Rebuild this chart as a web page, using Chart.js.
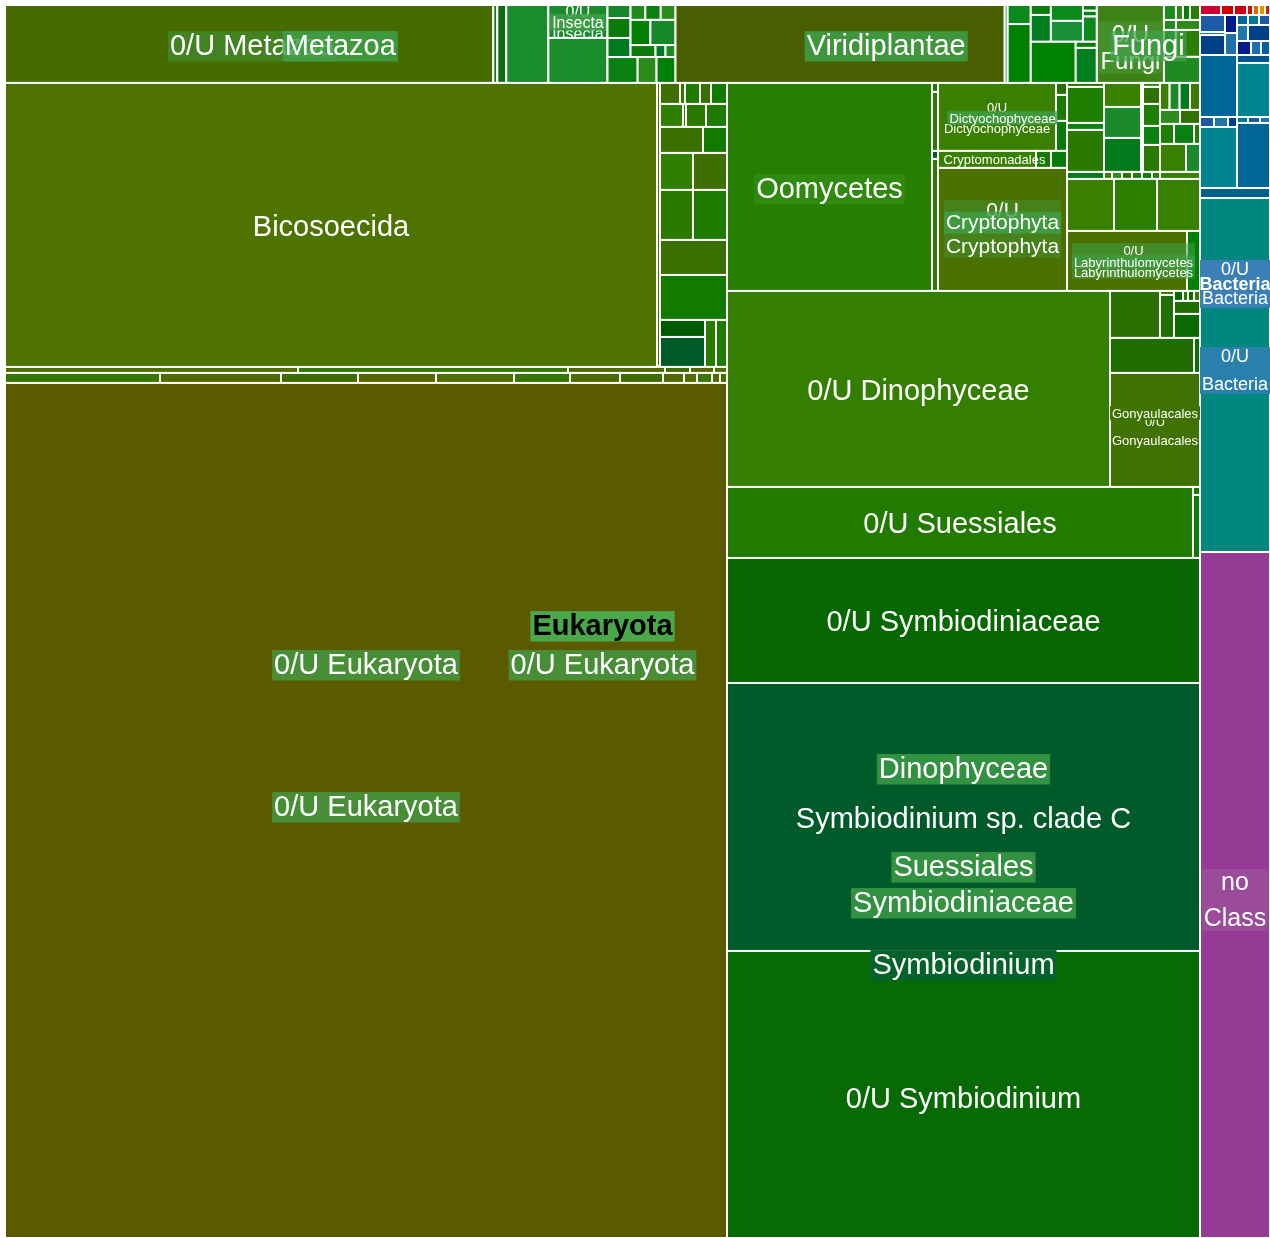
<!DOCTYPE html>
<html>
<head>
<meta charset="utf-8">
<title>Taxa treemap</title>
<script src="https://cdn.jsdelivr.net/npm/chart.js@4.4.1/dist/chart.umd.min.js"></script>
<style>
    html, body { margin: 0; padding: 0; background: #fff; }
    #wrap { position: relative; width: 1270px; height: 1238px; }
</style>
</head>
<body>
<div id="wrap"><canvas id="taxaTreemap"></canvas></div>
<script>
// Rows are [id, parent, value]; a group has value null and takes the sum of its children.
const kingdomRows = [
    ['all', null, null],
    ['Eukaryota', 'all', null],
    ['side', 'all', null],
    ['Other', 'side', null],
    ['Bacteria', 'side', null],
    ['no Class', 'side', 480.2],
    ['Eukaryota top', 'Eukaryota', null],
    ['Eukaryota rest', 'Eukaryota', null]
];

const otherRows = [
    ['ot a', 'Other', 2.1], ['ot b', 'Other', 1.3], ['ot c', 'Other', 1.3], ['ot d', 'Other', 0.6],
    ['ot e', 'Other', 0.6], ['ot f', 'Other', 0.6], ['ot g', 'Other', 0.5]
];

const metazoaRows = [
    ['Metazoa', 'Eukaryota top', null],
    ['0/U Metazoa', 'Metazoa', 380.6],
    ['Metazoa a', 'Metazoa', 3.1],
    ['Metazoa b', 'Metazoa', 7.0],
    ['Metazoa c', 'Metazoa', 32.8],
    ['Insecta', 'Metazoa', null],
    ['0/U Insecta', 'Insecta', 19.5], ['Insecta sp.', 'Insecta', 26.6],
    ['Metazoa misc', 'Metazoa', null],
    ['mm top', 'Metazoa misc', null],
    ['mm c1', 'mm top', null], ['mm 1', 'mm c1', 3.0], ['mm 2', 'mm c1', 4.6], ['mm 3', 'mm c1', 4.4],
    ['mm c2', 'mm top', null],
    ['mm r1', 'mm c2', null], ['mm 4', 'mm r1', 2.2], ['mm 5', 'mm r1', 2.3], ['mm 6', 'mm r1', 2.2],
    ['mm r2', 'mm c2', null], ['mm 7', 'mm r2', 5.0], ['mm 8', 'mm r2', 6.3],
    ['mm r3', 'mm c2', null], ['mm 9', 'mm r3', 3.0], ['mm 10', 'mm r3', 1.2], ['mm 11', 'mm r3', 1.2],
    ['mm bottom', 'Metazoa misc', null], ['mm 12', 'mm bottom', 7.8], ['mm 13', 'mm bottom', 4.9], ['mm 14', 'mm bottom', 4.9]
];

const viridiRows = [
    ['Viridiplantae', 'Eukaryota top', null],
    ['0/U Viridiplantae', 'Viridiplantae', 256.6],
    ['vp 1', 'Viridiplantae', 2.3],
    ['vp c2', 'Viridiplantae', null], ['vp 2', 'vp c2', 4.4], ['vp 3', 'vp c2', 13.6],
    ['vp c3', 'Viridiplantae', null],
    ['vp top', 'vp c3', null],
    ['vp a', 'vp top', null], ['vp 4', 'vp a', 2.0], ['vp 5', 'vp a', 5.4],
    ['vp b', 'vp top', null], ['vp 6', 'vp b', 5.1], ['vp 7', 'vp b', 6.7],
    ['vp c', 'vp top', null], ['vp 8', 'vp c', 0.8], ['vp 9', 'vp c', 0.8], ['vp 10', 'vp c', 3.5],
    ['vp bottom', 'vp c3', null], ['vp 11', 'vp bottom', 18.5],
    ['vp e', 'vp bottom', null], ['vp 12', 'vp e', 1.3], ['vp 13', 'vp e', 7.4]
];

const fungiRows = [
    ['Fungi', 'Eukaryota top', null],
    ['0/U Fungi', 'Fungi', 52.3],
    ['fu misc', 'Fungi', null],
    ['fu r1', 'fu misc', null], ['fu 1', 'fu r1', 1.8], ['fu 2', 'fu r1', 1.05], ['fu 3', 'fu r1', 1.05], ['fu 4', 'fu r1', 1.5],
    ['fu r2', 'fu misc', null], ['fu 5', 'fu r2', 1.2], ['fu 6', 'fu r2', 2.4],
    ['fu r3', 'fu misc', null], ['fu 7', 'fu r3', 3.2], ['fu 8', 'fu r3', 6.5],
    ['fu 9', 'fu misc', 9.4]
];

const leftRows = [
    ['Eukaryota left', 'Eukaryota rest', null],
    ['Bicosoecida area', 'Eukaryota left', null],
    ['Bicosoecida', 'Bicosoecida area', 1851.7],
    ['bc thin', 'Bicosoecida area', 8.5],
    ['bc misc', 'Bicosoecida area', null],
    ['bc r1', 'bc misc', null], ['bc 1', 'bc r1', 4.2], ['bc 2', 'bc r1', 1.05], ['bc 3', 'bc r1', 3.15], ['bc 4', 'bc r1', 2.31], ['bc 5', 'bc r1', 3.36],
    ['bc r2', 'bc misc', null], ['bc 6', 'bc r2', 5.29], ['bc 7', 'bc r2', 0.69], ['bc 8', 'bc r2', 4.6], ['bc 9', 'bc r2', 4.83],
    ['bc r3', 'bc misc', null], ['bc 10', 'bc r3', 11.18], ['bc 11', 'bc r3', 6.24],
    ['bc r4', 'bc misc', null], ['bc 12', 'bc r4', 12.21], ['bc 13', 'bc r4', 12.58],
    ['bc r5', 'bc misc', null], ['bc 14', 'bc r5', 16.5], ['bc 15', 'bc r5', 17.0],
    ['bc 16', 'bc misc', 23.45],
    ['bc 17', 'bc misc', 30.15],
    ['bc r8', 'bc misc', null], ['bc r8a', 'bc r8', null], ['bc 18', 'bc r8a', 7.65], ['bc 19', 'bc r8a', 13.5],
    ['bc 20', 'bc r8', 5.17], ['bc 21', 'bc r8', 5.17],
    ['strips', 'Eukaryota left', null],
    ['strip 1', 'strips', null],
    ['st 1', 'strip 1', 17.58], ['st 2', 'strip 1', 16.2], ['st 3', 'strip 1', 5.82], ['st 4', 'strip 1', 1.5], ['st 5', 'strip 1', 1.44], ['st 6', 'strip 1', 0.78],
    ['strip 2', 'strips', null],
    ['st 7', 'strip 2', 15.5], ['st 8', 'strip 2', 12.1], ['st 9', 'strip 2', 7.7], ['st 10', 'strip 2', 7.8], ['st 11', 'strip 2', 7.8],
    ['st 12', 'strip 2', 5.6], ['st 13', 'strip 2', 5.0], ['st 14', 'strip 2', 4.3], ['st 15', 'strip 2', 2.1], ['st 16', 'strip 2', 1.3],
    ['st 17', 'strip 2', 1.5], ['st 18', 'strip 2', 0.8], ['st 19', 'strip 2', 0.7],
    ['0/U Eukaryota', 'Eukaryota left', 6173.1]
];

const rightTopRows = [
    ['Eukaryota right', 'Eukaryota rest', null],
    ['right top', 'Eukaryota right', null],
    ['Oomycetes', 'right top', 426.4],
    ['oo thin', 'right top', null], ['oo 1', 'oo thin', 0.54], ['oo 2', 'oo thin', 3.54], ['oo 3', 'oo thin', 0.48], ['oo 4', 'oo thin', 7.92],
    ['Cryptophyta area', 'right top', null],
    ['Dictyochophyceae', 'Cryptophyta area', null],
    ['0/U Dictyochophyceae', 'Dictyochophyceae', 80.2],
    ['dc side', 'Dictyochophyceae', null], ['dc 1', 'dc side', 1.32], ['dc 2', 'dc side', 2.86], ['dc 3', 'dc side', 3.3],
    ['Cryptomonadales row', 'Cryptophyta area', null],
    ['Cryptomonadales', 'Cryptomonadales row', 16.66], ['cm 1', 'Cryptomonadales row', 2.55], ['cm 2', 'Cryptomonadales row', 2.72],
    ['0/U Cryptophyta', 'Cryptophyta area', 158.7],
    ['mixed', 'right top', null],
    ['mx top', 'mixed', null],
    ['mx c1', 'mx top', null], ['mx 1', 'mx c1', 1.48], ['mx 2', 'mx c1', 13.32], ['mx 3', 'mx c1', 2.59], ['mx 4', 'mx c1', 15.54],
    ['mx c2', 'mx top', null], ['mx 5', 'mx c2', 8.88], ['mx 6', 'mx c2', 11.47], ['mx 7', 'mx c2', 12.58],
    ['mx 8', 'mx top', 1.78],
    ['mx c3', 'mx top', null], ['mx 9', 'mx c3', 0.68], ['mx 10', 'mx c3', 2.89], ['mx 11', 'mx c3', 3.74], ['mx 12', 'mx c3', 3.23], ['mx 13', 'mx c3', 4.59],
    ['mx c4', 'mx top', null],
    ['mx c4a', 'mx c4', null], ['mx 14', 'mx c4a', 2.6], ['mx 15', 'mx c4a', 2.7], ['mx 16', 'mx c4a', 2.8], ['mx 17', 'mx c4a', 2.7],
    ['mx c4b', 'mx c4', null], ['mx 18', 'mx c4b', 2.8], ['mx 19', 'mx c4b', 2.8],
    ['mx c4c', 'mx c4', null], ['mx 20', 'mx c4c', 2.8], ['mx 21', 'mx c4c', 4.0], ['mx 22', 'mx c4c', 1.2],
    ['mx c4d', 'mx c4', null], ['mx 23', 'mx c4d', 7.28], ['mx 24', 'mx c4d', 3.92],
    ['mx thin', 'mixed', null],
    ['mx 25', 'mx thin', 2.59], ['mx 26', 'mx thin', 0.56], ['mx 27', 'mx thin', 0.7], ['mx 28', 'mx thin', 0.7],
    ['mx 29', 'mx thin', 0.7], ['mx 30', 'mx thin', 0.7], ['mx 31', 'mx thin', 0.56], ['mx 32', 'mx thin', 2.8],
    ['mx mid', 'mixed', null], ['mx 33', 'mx mid', 24.44], ['mx 34', 'mx mid', 22.36], ['mx 35', 'mx mid', 22.36],
    ['Labyrinthulomycetes', 'mixed', null],
    ['0/U Labyrinthulomycetes', 'Labyrinthulomycetes', 72], ['lb 1', 'Labyrinthulomycetes', 7.8]
];

const dinoRows = [
    ['Dinophyceae', 'Eukaryota right', null],
    ['dino top', 'Dinophyceae', null],
    ['0/U Dinophyceae', 'dino top', 750.7],
    ['gony area', 'dino top', null],
    ['gy top', 'gony area', null], ['gy 1', 'gy top', 23.5],
    ['gy c2', 'gy top', null], ['gy 2', 'gy c2', 0.56], ['gy 3', 'gy c2', 6.0],
    ['gy c3', 'gy top', null], ['gy r', 'gy c3', null],
    ['gy 4', 'gy r', 0.9], ['gy 5', 'gy r', 0.5], ['gy 6', 'gy r', 0.6], ['gy 7', 'gy r', 0.6],
    ['gy 8', 'gy c3', 3.38], ['gy 9', 'gy c3', 6.24],
    ['Gonyaulacales', 'gony area', null],
    ['gy row', 'Gonyaulacales', null], ['gy 10', 'gy row', 29.4], ['gy 11', 'gy row', 2.1],
    ['0/U Gonyaulacales', 'Gonyaulacales', 102.6],
    ['Suessiales', 'Dinophyceae', null],
    ['ss top', 'Suessiales', null], ['0/U Suessiales', 'ss top', 330.9],
    ['ss side', 'ss top', null], ['ss 1', 'ss side', 0.56], ['ss 2', 'ss side', 4.41],
    ['Symbiodiniaceae', 'Suessiales', null],
    ['0/U Symbiodiniaceae', 'Symbiodiniaceae', 591.25],
    ['Symbiodinium', 'Symbiodiniaceae', null],
    ['Symbiodinium sp. clade C', 'Symbiodinium', 1267.6],
    ['0/U Symbiodinium', 'Symbiodinium', 1357.5]
];

const bacteriaRows = [
    ['bt top', 'Bacteria', null],
    ['bt c1', 'bt top', null], ['bt 1', 'bt c1', 4.25], ['bt 2', 'bt c1', 0.75], ['bt 3', 'bt c1', 5.0],
    ['bt c2', 'bt top', null], ['bt 4', 'bt c2', 2.16], ['bt 5', 'bt c2', 2.64],
    ['bt c3', 'bt top', null],
    ['bt r1', 'bt c3', null], ['bt 6', 'bt r1', 1.1], ['bt 7', 'bt r1', 1.1], ['bt 8', 'bt r1', 1.1],
    ['bt r2', 'bt c3', null], ['bt 9', 'bt r2', 1.76], ['bt 10', 'bt r2', 3.52],
    ['bt r3', 'bt c3', null], ['bt 11', 'bt r3', 1.96], ['bt 12', 'bt r3', 1.4], ['bt 13', 'bt r3', 1.26],
    ['bt mid', 'Bacteria', null],
    ['bt c4', 'bt mid', null], ['bt 14', 'bt c4', 22.94],
    ['bt r4', 'bt c4', null], ['bt 15', 'bt r4', 1.4], ['bt 16', 'bt r4', 1.4], ['bt 17', 'bt r4', 0.9],
    ['bt 18', 'bt c4', 22.57],
    ['bt c5', 'bt mid', null], ['bt 19', 'bt c5', 2.64], ['bt 20', 'bt c5', 17.82],
    ['bt r5', 'bt c5', null], ['bt 21', 'bt r5', 0.66], ['bt 22', 'bt r5', 0.72], ['bt 23', 'bt r5', 0.6],
    ['bt 24', 'bt c5', 21.45],
    ['bt 25', 'Bacteria', 7.0],
    ['0/U Bacteria', 'Bacteria', 247.8]
];

// groups split side by side ('x'); every other group is stacked
const xSplit = ['all', 'Eukaryota top', 'Other', 'Metazoa', 'mm top', 'mm r1', 'mm r2', 'mm r3', 'mm bottom',
    'Viridiplantae', 'vp top', 'vp bottom', 'Fungi', 'fu r1', 'fu r2', 'fu r3',
    'Eukaryota rest', 'Bicosoecida area', 'bc r1', 'bc r2', 'bc r3', 'bc r4', 'bc r5', 'bc r8', 'strip 1', 'strip 2',
    'right top', 'Dictyochophyceae', 'Cryptomonadales row', 'mx top', 'mx c4a', 'mx c4b', 'mx c4c', 'mx c4d',
    'mx thin', 'mx mid', 'Labyrinthulomycetes', 'dino top', 'gy top', 'gy r', 'gy row', 'ss top',
    'bt top', 'bt r1', 'bt r2', 'bt r3', 'bt mid', 'bt r4', 'bt r5'];

const leafColors = {
    '0/U Metazoa': '#466b00', 'Metazoa a': '#0b7a16', 'Metazoa b': '#0f6f0f', 'Metazoa c': '#1b8c2c',
    '0/U Insecta': '#1b8c2c', 'Insecta sp.': '#1b8c2c',
    '0/U Viridiplantae': '#485e00', 'vp 7': '#1a8f3a', '0/U Fungi': '#3c8214',
    'Bicosoecida': '#4e7300', 'bc thin': '#4a7000', 'bc 18': '#005a00', 'bc 19': '#005a28',
    '0/U Eukaryota': '#5b5a00',
    'Oomycetes': '#267f00', '0/U Dictyochophyceae': '#3a7f00', 'Cryptomonadales': '#3a7f00', '0/U Cryptophyta': '#4a7000',
    'mx 33': '#3a7f00', 'mx 34': '#2a7f00', 'mx 35': '#3a8000', '0/U Labyrinthulomycetes': '#4a7000', 'lb 1': '#008000',
    '0/U Dinophyceae': '#347f00', '0/U Gonyaulacales': '#3f7200', 'gy 1': '#2a7000', 'gy 10': '#1f6c00',
    '0/U Suessiales': '#237a00', '0/U Symbiodiniaceae': '#076700', 'Symbiodinium sp. clade C': '#005a2a',
    '0/U Symbiodinium': '#086a04',
    'bt 14': '#006699', 'bt 18': '#00848f', 'bt 19': '#00558f', 'bt 20': '#008490', 'bt 24': '#006699', 'bt 25': '#00628a',
    '0/U Bacteria': '#00877f', 'no Class': '#953a95'
};

const groupColors = {
    'Other': ['#cc2200', '#cc0033', '#cc0000', '#cc0011', '#cc1100', '#dd6600', '#dd9900'],
    'Metazoa misc': ['#17882a', '#0a7a0a', '#007a22', '#1f8a1f', '#0a8010', '#2a8a1a', '#008000'],
    'Viridiplantae': ['#0a7c0a', '#007f1f', '#0a8a1a', '#008000'],
    'Fungi': ['#2f8a1a', '#008000', '#2a7f00', '#1f8a1f'],
    'bc misc': ['#3f6f00', '#2a7a00', '#1f7a00', '#3a7000', '#137a00', '#2f7f00'],
    'strips': ['#4f7000', '#357700', '#4f6a00', '#3d6c00', '#556800'],
    'oo thin': ['#1f7a00', '#2a7a00', '#005a3a', '#2a7a00'],
    'Cryptophyta area': ['#1a7a00', '#0a7a0a', '#2a7000'],
    'mixed': ['#2f7000', '#1f7f00', '#0a8010', '#2a7a00', '#3a8000', '#1a8a2a', '#007a1a', '#3f7a00', '#2f8a1f'],
    'gony area': ['#2a7a00', '#0a7000', '#3a7a00', '#1f6f00', '#0a6a00'],
    'ss top': ['#0a7a0a', '#1f7a00'],
    'Bacteria': ['#1f6faa', '#006699', '#00788f', '#1c5aa8', '#1f76a8', '#00408a', '#001a8a']
};

const labelSpecs = [
    { node: '0/U Metazoa', text: '0/U Metazoa', size: 29, dx: 3, dy: 1, bg: 'rgba(64,150,60,0.55)' },
    { node: 'Metazoa', text: 'Metazoa', size: 29, dy: 1, bg: 'rgba(64,160,72,0.85)' },
    { node: '0/U Insecta', text: '0/U\nInsecta', size: 16, gap: 22, dy: 0.5 },
    { node: '0/U Insecta', text: 'Insecta', size: 16, dy: 0.5, bg: 'rgba(64,160,72,0.85)' },
    { node: 'Viridiplantae', text: 'Viridiplantae', size: 29, dy: 1, bg: 'rgba(64,160,72,0.85)' },
    { node: '0/U Fungi', text: '0/U\nFungi', size: 24, gap: 27, dy: 2.5, bg: 'rgba(80,160,70,0.45)' },
    { node: 'Fungi', text: 'Fungi', size: 29, dy: 1, bg: 'rgba(64,160,72,0.7)' },
    { node: 'Bicosoecida', text: 'Bicosoecida', size: 29, dy: 1 },
    { node: 'Eukaryota', text: 'Eukaryota', size: 29, bold: true, color: '#000', dy: 3.5, bg: '#4aa84a' },
    { node: 'Eukaryota rest', text: '0/U Eukaryota', size: 29, dy: 3.5, bg: 'rgba(64,160,72,0.75)' },
    { node: 'Eukaryota left', text: '0/U Eukaryota', size: 29, dy: 3.5, bg: 'rgba(64,160,72,0.75)' },
    { node: '0/U Eukaryota', text: '0/U Eukaryota', size: 29, dy: -4.5, bg: 'rgba(64,160,72,0.75)' },
    { node: 'Oomycetes', text: 'Oomycetes', size: 29, dy: 1, bg: 'rgba(80,170,60,0.25)' },
    { node: '0/U Dictyochophyceae', text: '0/U\nDictyochophyceae', size: 13, gap: 21, dy: 0.5 },
    { node: 'Dictyochophyceae', text: 'Dictyochophyceae', size: 13, dy: 1, bg: 'rgba(64,160,72,0.8)' },
    { node: 'Cryptomonadales row', text: 'Cryptomonadales', size: 13, dx: -8, dy: 0 },
    { node: '0/U Cryptophyta', text: '0/U\nCryptophyta', size: 21, gap: 36, dy: -1.5, bg: 'rgba(64,160,72,0.35)' },
    { node: '0/U Cryptophyta', text: 'Cryptophyta', size: 21, dy: -7.5, bg: 'rgba(64,160,72,0.8)' },
    { node: 'Labyrinthulomycetes', text: '0/U\nLabyrinthulomycetes', size: 13, gap: 22, dy: 0, bg: 'rgba(64,160,72,0.55)' },
    { node: 'Labyrinthulomycetes', text: 'Labyrinthulomycetes', size: 13, dy: 1, bg: 'rgba(64,160,72,0.6)' },
    { node: '0/U Dinophyceae', text: '0/U Dinophyceae', size: 29, dy: 1 },
    { node: '0/U Gonyaulacales', text: '0/U\nGonyaulacales', size: 13, gap: 19, dy: 0.5 },
    { node: 'Gonyaulacales', text: 'Gonyaulacales', size: 13, dy: 0.5, bg: '#3f7200' },
    { node: '0/U Suessiales', text: '0/U Suessiales', size: 29, dy: 0.5 },
    { node: '0/U Symbiodiniaceae', text: '0/U Symbiodiniaceae', size: 29, dy: 0.5 },
    { node: 'Dinophyceae', text: 'Dinophyceae', size: 29, dy: 3.5, bg: 'rgba(64,160,72,0.8)' },
    { node: 'Symbiodinium sp. clade C', text: 'Symbiodinium sp. clade C', size: 29, dy: 1 },
    { node: 'Suessiales', text: 'Suessiales', size: 29, dy: 3.5, bg: 'rgba(64,160,72,0.8)' },
    { node: 'Symbiodiniaceae', text: 'Symbiodiniaceae', size: 29, dy: 4, bg: 'rgba(64,160,72,0.8)' },
    { node: 'Symbiodinium', text: 'Symbiodinium', size: 29, dy: 3.5, bg: '#05622a' },
    { node: '0/U Symbiodinium', text: '0/U Symbiodinium', size: 29, dy: 3.5 },
    { node: 'Bacteria', text: '0/U\nBacteria', size: 18, gap: 29, dy: 0, bg: '#3a7fb6' },
    { node: 'Bacteria', text: 'Bacteria', size: 18, bold: true, dy: 0.5 },
    { node: '0/U Bacteria', text: '0/U\nBacteria', size: 18, gap: 28, dy: -5, bg: '#2a80aa' },
    { node: 'no Class', text: 'no\nClass', size: 25, gap: 36, dy: 4, bg: '#9a4c9a' }
];

const allRows = [].concat(kingdomRows, otherRows, metazoaRows, viridiRows, fungiRows,
    leftRows, rightTopRows, dinoRows, bacteriaRows);

function buildTree(rows) {
    const nodes = {};
    rows.forEach(function (r) {
        nodes[r[0]] = { id: r[0], parent: r[1], value: r[2], children: [] };
    });
    rows.forEach(function (r) {
        if (r[1]) nodes[r[1]].children.push(nodes[r[0]]);
    });
    return nodes;
}

function sumUp(node) {
    node.sum = node.children.length
        ? node.children.reduce(function (s, c) { return s + sumUp(c); }, 0)
        : node.value;
    return node.sum;
}

// slice-and-dice in data space (0..1 on both axes)
function place(node, x0, y0, x1, y1) {
    node.box = [x0, y0, x1, y1];
    if (!node.children.length) return;
    const horizontal = xSplit.indexOf(node.id) >= 0;
    let pos = horizontal ? x0 : y0;
    const span = horizontal ? x1 - x0 : y1 - y0;
    node.children.forEach(function (c) {
        const len = span * c.sum / node.sum;
        if (horizontal) place(c, pos, y0, pos + len, y1);
        else place(c, x0, pos, x1, pos + len);
        pos += len;
    });
}

const nodes = buildTree(allRows);
sumUp(nodes['all']);
place(nodes['all'], 0, 0, 1, 1);

const leaves = allRows.map(function (r) { return nodes[r[0]]; })
    .filter(function (n) { return !n.children.length; });

function colorOf(node, i) {
    if (leafColors[node.id]) return leafColors[node.id];
    let p = node.parent;
    while (p) {
        if (groupColors[p]) return groupColors[p][i % groupColors[p].length];
        p = nodes[p].parent;
    }
    return '#2a7a00';
}

const treemapPainter = {
    id: 'treemapPainter',
    afterDatasetsDraw(chart) {
        const ctx = chart.ctx;
        const xs = chart.scales.x, ys = chart.scales.y;
        const toPx = function (b) {
            return {
                l: xs.getPixelForValue(b[0]), t: ys.getPixelForValue(b[1]),
                r: xs.getPixelForValue(b[2]), b: ys.getPixelForValue(b[3])
            };
        };

        ctx.save();
        leaves.forEach(function (n, i) {
            const p = toPx(n.box);
            ctx.fillStyle = colorOf(n, i);
            ctx.fillRect(p.l, p.t, p.r - p.l, p.b - p.t);
            ctx.strokeStyle = '#fff';
            ctx.lineWidth = 2;
            ctx.strokeRect(p.l, p.t, p.r - p.l, p.b - p.t);
        });

        labelSpecs.forEach(function (s) {
            const p = toPx(nodes[s.node].box);
            const cx = (p.l + p.r) / 2 + (s.dx || 0);
            // canvas 'middle' sits a touch high for this font, nudge down
            const cy = (p.t + p.b) / 2 + (s.dy || 0) + s.size * 0.08;
            const lines = s.text.split('\n');
            const gap = s.gap || s.size * 1.15;
            ctx.save();
            ctx.beginPath();
            ctx.rect(p.l, p.t, p.r - p.l, p.b - p.t);
            ctx.clip();
            ctx.font = (s.bold ? 'bold ' : '') + s.size + 'px "Liberation Sans", Arial, sans-serif';
            const w = Math.max.apply(null, lines.map(function (t) { return ctx.measureText(t).width; }));
            const h = (lines.length - 1) * gap + s.size * 1.05;
            if (s.bg) {
                ctx.fillStyle = s.bg;
                ctx.fillRect(cx - w / 2 - 2, cy - h / 2 - 1, w + 4, h);
            }
            ctx.fillStyle = s.color || '#fff';
            ctx.textAlign = 'center';
            ctx.textBaseline = 'middle';
            lines.forEach(function (t, k) {
                ctx.fillText(t, cx, cy - (lines.length - 1) * gap / 2 + k * gap);
            });
            ctx.restore();
        });
        ctx.restore();
    }
};

new Chart(document.getElementById('taxaTreemap'), {
    type: 'scatter',
    data: { datasets: [] },
    options: {
        responsive: true,
        maintainAspectRatio: false,
        animation: false,
        layout: { padding: { left: 5, top: 5, right: 0, bottom: 0 } },
        scales: {
            x: { type: 'linear', min: 0, max: 1, display: false },
            y: { type: 'linear', min: 0, max: 1, reverse: true, display: false }
        },
        plugins: {
            legend: { display: false },
            tooltip: { enabled: false }
        }
    },
    plugins: [treemapPainter]
});
</script>
</body>
</html>
